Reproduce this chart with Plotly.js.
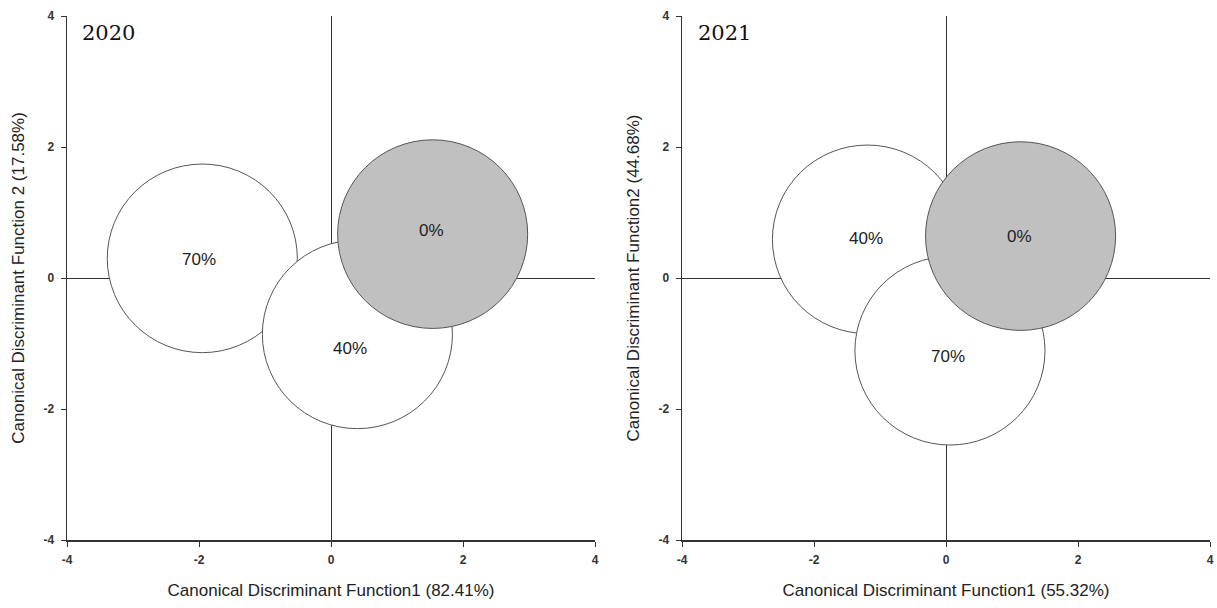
<!DOCTYPE html>
<html>
<head>
<meta charset="utf-8">
<script src="https://cdn.plot.ly/plotly-3.0.1.min.js"></script>
<style>html,body{margin:0;padding:0;background:#fff;}#chart{width:1217px;height:608px;}</style>
</head>
<body>
<div id="chart"></div>
<script>
// ---- data ----
const groups = ["70%", "40%", "0%"];
const radius = 1.44;
// 2020 panel
const cx2020 = [-1.95, 0.40, 1.54];
const cy2020 = [0.30, -0.86, 0.67];
const lx2020 = [-2.00, 0.29, 1.53];
const ly2020 = [0.29, -1.07, 0.73];
// 2021 panel
const cx2021 = [0.06, -1.19, 1.13];
const cy2021 = [-1.11, 0.59, 0.64];
const lx2021 = [0.03, -1.21, 1.12];
const ly2021 = [-1.20, 0.61, 0.63];
// drawing order (bottom to top) per panel
const order2020 = [0, 1, 2];
const order2021 = [1, 0, 2];
const fills = {"70%": "#ffffff", "40%": "#ffffff", "0%": "#c0c0c0"};
const tickVals = [-4, -2, 0, 2, 4];
const tickText = ["-4", "-2", "0", "2", "4"];
const panelLabels = ["2020", "2021"];
const xTitles = ["Canonical Discriminant Function1 (82.41%)", "Canonical Discriminant Function1 (55.32%)"];
const yTitles = ["Canonical Discriminant Function 2 (17.58%)", "Canonical Discriminant Function2 (44.68%)"];

// ---- build ----
const W = 1217, H = 608;
const xdom1 = [67 / W, 595 / W];
const xdom2 = [682 / W, 1210 / W];
const ydom = [(H - 540) / H, (H - 16) / H];

const traces = [
  {x: cx2020, y: cy2020, xaxis: 'x', yaxis: 'y', type: 'scatter', mode: 'markers',
   marker: {opacity: 0, size: 1}, hoverinfo: 'skip', showlegend: false},
  {x: cx2021, y: cy2021, xaxis: 'x2', yaxis: 'y2', type: 'scatter', mode: 'markers',
   marker: {opacity: 0, size: 1}, hoverinfo: 'skip', showlegend: false}
];

const shapes = [];
const annotations = [];
function addPanel(cx, cy, lx, ly, order, xr, yr) {
  order.forEach(i => {
    shapes.push({type: 'circle', xref: xr, yref: yr,
      x0: cx[i] - radius, x1: cx[i] + radius, y0: cy[i] - radius, y1: cy[i] + radius,
      fillcolor: fills[groups[i]], line: {color: '#555555', width: 1}, layer: 'above'});
  });
  groups.forEach((g, i) => {
    annotations.push({xref: xr, yref: yr, x: lx[i], y: ly[i], text: g, showarrow: false,
      font: {family: 'Liberation Sans, Arial, sans-serif', size: 17, color: '#222222'}});
  });
}
addPanel(cx2020, cy2020, lx2020, ly2020, order2020, 'x', 'y');
addPanel(cx2021, cy2021, lx2021, ly2021, order2021, 'x2', 'y2');

annotations.push({xref: 'paper', yref: 'paper', x: 80 / W, y: (H - 33) / H, xanchor: 'left', yanchor: 'middle',
  text: panelLabels[0], showarrow: false, font: {family: 'DejaVu Serif, serif', size: 21, color: '#111'}});
annotations.push({xref: 'paper', yref: 'paper', x: 696 / W, y: (H - 33) / H, xanchor: 'left', yanchor: 'middle',
  text: panelLabels[1], showarrow: false, font: {family: 'DejaVu Serif, serif', size: 21, color: '#111'}});

const tickFont = {family: 'Liberation Sans, Arial, sans-serif', size: 12, color: '#333333', weight: 'bold'};
const titleFont = {family: 'Liberation Sans, Arial, sans-serif', size: 17, color: '#222222'};
function axis(dom, title, anchor, isX) {
  return {
    domain: dom, anchor: anchor, range: [-4, 4], autorange: false,
    tickmode: 'array', tickvals: tickVals, ticktext: tickText,
    ticks: 'outside', ticklen: 5, tickwidth: 1, tickcolor: '#333333',
    ticklabelstandoff: isX ? 3 : 4,
    showline: true, linecolor: '#333333', linewidth: 1.5, mirror: false,
    showgrid: false, zeroline: true, zerolinecolor: '#333333', zerolinewidth: 1,
    tickfont: tickFont, fixedrange: true,
    title: {text: title, font: titleFont, standoff: isX ? 18 : 14}
  };
}

const layout = {
  width: W, height: H,
  margin: {l: 0, r: 0, t: 0, b: 0},
  paper_bgcolor: '#ffffff', plot_bgcolor: '#ffffff',
  showlegend: false,
  xaxis: axis(xdom1, xTitles[0], 'y', true),
  yaxis: axis(ydom, yTitles[0], 'x', false),
  xaxis2: axis(xdom2, xTitles[1], 'y2', true),
  yaxis2: axis(ydom, yTitles[1], 'x2', false),
  shapes: shapes,
  annotations: annotations
};

Plotly.newPlot('chart', traces, layout, {displayModeBar: false, staticPlot: true});
</script>
</body>
</html>
